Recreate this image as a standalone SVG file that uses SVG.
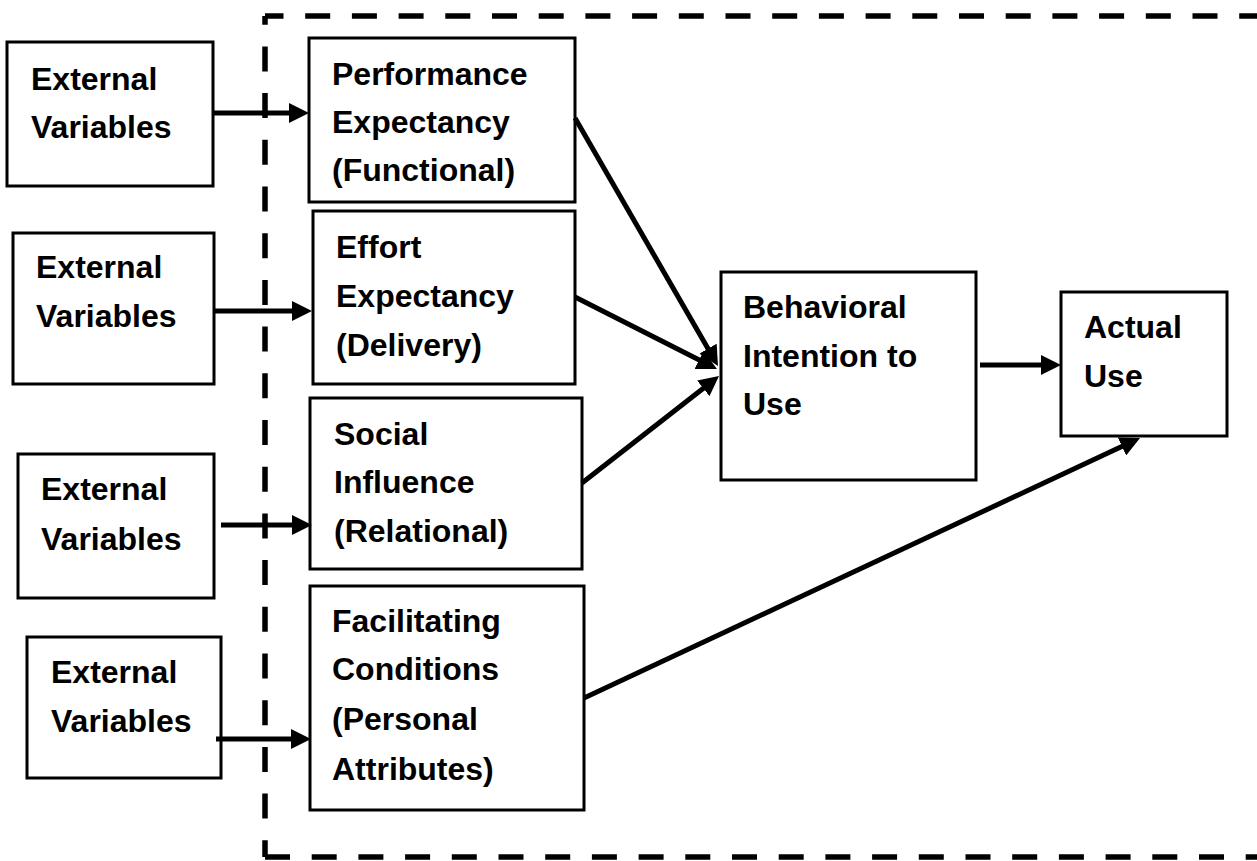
<svg xmlns="http://www.w3.org/2000/svg" width="1257" height="861" viewBox="0 0 1257 861">
<style>
  .box { fill: #ffffff; stroke: #000000; stroke-width: 3; }
  .lbl { font-family: "Liberation Sans", Arial, sans-serif; font-weight: bold; font-size: 32px; fill: #000000; }
  .conn { stroke: #000000; stroke-width: 5; fill: none; }
  .dash { stroke: #000000; stroke-width: 5.5; fill: none; stroke-dasharray: 25 21.7; }
</style>
<defs>
  <marker id="arr" viewBox="0 0 20 20" refX="14" refY="10" markerWidth="20" markerHeight="20" markerUnits="userSpaceOnUse" orient="auto">
    <path d="M0,0 L20,10 L0,20 z" fill="#000000"/>
  </marker>
</defs>
<rect width="1257" height="861" fill="#ffffff"/>

<g id="boundary">
  <path class="dash" d="M265,16 H1262" stroke-dashoffset="6.5"/>
  <path class="dash" d="M265,16 V857" stroke-dashoffset="16.3"/>
  <path class="dash" d="M265,857 H1262"/>
</g>

<g id="ext1">
  <rect class="box" x="7" y="42" width="206" height="144"/>
  <text class="lbl" x="31" y="90">External</text>
  <text class="lbl" x="31" y="138">Variables</text>
</g>
<g id="ext2">
  <rect class="box" x="13" y="233" width="201" height="151"/>
  <text class="lbl" x="36" y="278">External</text>
  <text class="lbl" x="36" y="327">Variables</text>
</g>
<g id="ext3">
  <rect class="box" x="18" y="454" width="196" height="144"/>
  <text class="lbl" x="41" y="500">External</text>
  <text class="lbl" x="41" y="550">Variables</text>
</g>
<g id="ext4">
  <rect class="box" x="27" y="637" width="194" height="141"/>
  <text class="lbl" x="51" y="683">External</text>
  <text class="lbl" x="51" y="732">Variables</text>
</g>

<g id="performance">
  <rect class="box" x="309" y="38" width="266" height="164"/>
  <text class="lbl" x="332" y="85">Performance</text>
  <text class="lbl" x="332" y="133">Expectancy</text>
  <text class="lbl" x="332" y="181">(Functional)</text>
</g>
<g id="effort">
  <rect class="box" x="313" y="211" width="262" height="173"/>
  <text class="lbl" x="336" y="258">Effort</text>
  <text class="lbl" x="336" y="307">Expectancy</text>
  <text class="lbl" x="336" y="356">(Delivery)</text>
</g>
<g id="social">
  <rect class="box" x="310" y="398" width="272" height="171"/>
  <text class="lbl" x="334" y="445">Social</text>
  <text class="lbl" x="334" y="493">Influence</text>
  <text class="lbl" x="334" y="542">(Relational)</text>
</g>
<g id="facilitating">
  <rect class="box" x="310" y="586" width="274" height="224"/>
  <text class="lbl" x="332" y="632">Facilitating</text>
  <text class="lbl" x="332" y="680">Conditions</text>
  <text class="lbl" x="332" y="730">(Personal</text>
  <text class="lbl" x="332" y="780">Attributes)</text>
</g>
<g id="intention">
  <rect class="box" x="721" y="272" width="255" height="208"/>
  <text class="lbl" x="743" y="318">Behavioral</text>
  <text class="lbl" x="743" y="367">Intention to</text>
  <text class="lbl" x="743" y="415">Use</text>
</g>
<g id="actual">
  <rect class="box" x="1061" y="292" width="166" height="144"/>
  <text class="lbl" x="1084" y="338">Actual</text>
  <text class="lbl" x="1084" y="387">Use</text>
</g>

<g id="connectors">
  <line class="conn" x1="213" y1="113" x2="303" y2="113" marker-end="url(#arr)"/>
  <line class="conn" x1="214" y1="311" x2="306" y2="311" marker-end="url(#arr)"/>
  <line class="conn" x1="221" y1="525" x2="306" y2="525" marker-end="url(#arr)"/>
  <line class="conn" x1="216" y1="739" x2="305" y2="739" marker-end="url(#arr)"/>
  <line class="conn" x1="575" y1="118" x2="715" y2="360.8" marker-end="url(#arr)"/>
  <line class="conn" x1="575" y1="297" x2="711.6" y2="366.3" marker-end="url(#arr)"/>
  <line class="conn" x1="582" y1="483" x2="714.3" y2="379.7" marker-end="url(#arr)"/>
  <line class="conn" x1="980" y1="365" x2="1055" y2="365" marker-end="url(#arr)"/>
  <line class="conn" x1="584" y1="698" x2="1134.6" y2="440.5" marker-end="url(#arr)"/>
</g>
</svg>
